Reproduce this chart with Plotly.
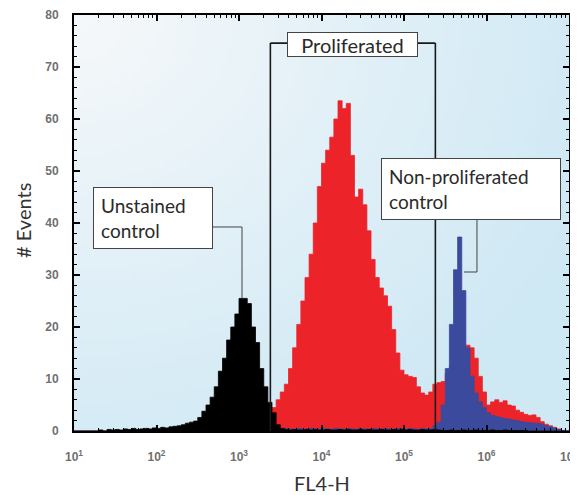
import zlib, struct, base64
import numpy as np
import plotly.graph_objects as go

# ---------------- data ----------------
bin_start_log10 = 1.0      # first bin edge = 10^1
bin_width_log10 = 0.05     # bin width in decades

unstained = [
    0, 0, 0, 0, 0, 0, 0.2, 0, 0.3, 0.2,
    0.3, 0.2, 0.4, 0.3, 0.5, 0.3, 0.4, 0.5, 0.4, 0.6,
    0.5, 0.7, 0.6, 0.8, 0.9, 1.0, 1.2, 1.5, 1.7, 1.9,
    2.6, 3.8, 5.0, 6.5, 8.5, 11.5, 14.0, 17.5, 20.0, 22.5,
    25.5, 25.5, 24.5, 20.0, 17.0, 12.0, 8.5, 5.5, 3.5, 1.2,
    0.5, 0.3, 0.2, 0.3, 0.2, 0.2, 0.3, 0.2, 0.3, 0.2,
    0.2, 0.3, 0.2, 0.2, 0.3, 0.2, 0.3, 0.2, 0.2, 0.3,
    0.2, 0.3, 0.2, 0.2, 0.3, 0.2, 0.2, 0.3, 0.2, 0.3,
    0.2, 0.3, 0.2, 0.2, 0.3, 0.2, 0.2, 0.3, 0.2, 0.1,
    0.1, 0.2, 0.1, 0.1, 0.2, 0.1, 0.1, 0.2, 0.1, 0.1,
    0.1, 0.2, 0.1, 0.1, 0.2, 0.1, 0.1, 0.1, 0.1, 0.1,
    0, 0, 0, 0, 0, 0, 0, 0, 0, 0,
]

proliferated = [
    0, 0, 0, 0, 0, 0, 0, 0, 0, 0,
    0, 0, 0, 0, 0, 0, 0, 0, 0, 0,
    0, 0, 0, 0, 0, 0, 0, 0, 0, 0,
    0, 0, 0, 0, 0, 0, 0, 0, 0, 0,
    0, 0, 0, 0, 0, 0, 0, 0, 4.5, 6.0,
    7.5, 9.0, 12.0, 16.0, 20.5, 25.0, 29.5, 34.0, 40.0, 47.0,
    51.5, 54.0, 56.5, 60.0, 63.5, 62.0, 63.0, 53.0, 45.0, 46.5,
    43.5, 38.5, 33.0, 29.5, 27.5, 26.0, 24.0, 19.5, 15.0, 11.7,
    10.8, 10.5, 10.3, 8.5, 7.3, 6.9, 7.5, 9.0, 9.3, 9.5,
    11.0, 12.5, 14.0, 15.0, 16.0, 16.5, 16.0, 14.0, 10.5, 7.5,
    5.0, 5.6, 6.0, 5.5, 5.8, 5.0, 4.8, 4.0, 3.6, 3.2,
    3.0, 3.1, 2.6, 1.8, 1.3, 1.0, 0.7, 0.4, 0.1, 0,
]

non_proliferated = [
    0, 0, 0, 0, 0, 0, 0, 0, 0, 0,
    0, 0, 0, 0, 0, 0, 0, 0, 0, 0,
    0, 0, 0, 0, 0, 0, 0, 0, 0, 0,
    0, 0, 0, 0, 0, 0, 0, 0, 0, 0,
    0, 0, 0, 0, 0, 0, 0, 0, 0.4, 0.5,
    0.3, 0.5, 0.4, 0.3, 0.5, 0.4, 0.3, 0.5, 0.4, 0.3,
    0.5, 0.4, 0.3, 0.5, 0.4, 0.3, 0.5, 0.4, 0.3, 0.5,
    0.4, 0.3, 0.5, 0.4, 0.3, 0.5, 0.4, 0.3, 0.5, 0.4,
    0.3, 0.5, 0.4, 0.3, 0.5, 0.4, 0.5, 1.0, 1.7, 5.0,
    12.0, 20.5, 31.0, 37.3, 27.0, 16.0, 10.5, 7.3, 5.6, 4.5,
    3.5, 3.0, 2.8, 2.6, 2.4, 2.3, 2.1, 2.0, 1.8, 1.7,
    1.6, 1.5, 1.5, 1.3, 1.0, 0.8, 0.6, 0.3, 0.1, 0,
]

gate_low = 2.4e3
gate_high = 2.4e5
gate_top = 74.6

x_tick_vals = [1e1, 1e2, 1e3, 1e4, 1e5, 1e6, 1e7]
x_tick_text = ["10<sup>1</sup>", "10<sup>2</sup>", "10<sup>3</sup>", "10<sup>4</sup>",
               "10<sup>5</sup>", "10<sup>6</sup>", "10<sup>7</sup>"]
y_tick_vals = [0, 10, 20, 30, 40, 50, 60, 70, 80]

# ---------------- helpers ----------------
n_bins = len(unstained)
edges = [10 ** (bin_start_log10 + bin_width_log10 * i) for i in range(n_bins + 1)]


def step_xy(counts):
    return edges, list(counts) + [counts[-1]]


def gradient_png(w, h):
    c0 = np.array([246, 248, 250], dtype=float)
    c1 = np.array([206, 232, 244], dtype=float)
    rows = []
    for j in range(h):
        v = j / (h - 1)
        row = bytearray([0])
        for i in range(w):
            u = i / (w - 1)
            t = min(1.0, ((u * 1.0) ** 2 + (v * 0.95) ** 2) ** 0.5 / 1.15)
            c = c0 + (c1 - c0) * t
            row += bytes(int(round(x)) for x in c)
        rows.append(bytes(row))
    raw = b"".join(rows)

    def chunk(tag, data):
        return (struct.pack(">I", len(data)) + tag + data +
                struct.pack(">I", zlib.crc32(tag + data) & 0xFFFFFFFF))

    png = (b"\x89PNG\r\n\x1a\n" +
           chunk(b"IHDR", struct.pack(">IIBBBBB", w, h, 8, 2, 0, 0, 0)) +
           chunk(b"IDAT", zlib.compress(raw, 9)) + chunk(b"IEND", b""))
    return "data:image/png;base64," + base64.b64encode(png).decode()


RED = "#ec2329"
BLUE = "#3b4a9c"
BLACK = "#000000"

fig = go.Figure()
for counts, color in [(proliferated, RED), (non_proliferated, BLUE), (unstained, BLACK)]:
    xs, ys = step_xy(counts)
    fig.add_trace(go.Scatter(x=xs, y=ys, mode="lines", line=dict(shape="hv", color=color, width=0.8),
                             fill="tozeroy", fillcolor=color, hoverinfo="skip", showlegend=False))

# gate bracket
line_dark = dict(color="#1a1a1a", width=1.6)
fig.add_shape(type="line", xref="x", yref="y", x0=gate_low, x1=gate_low, y0=0, y1=gate_top, line=line_dark)
fig.add_shape(type="line", xref="x", yref="y", x0=gate_high, x1=gate_high, y0=0, y1=gate_top, line=line_dark)
fig.add_shape(type="line", xref="x", yref="y", x0=gate_low, x1=gate_high, y0=gate_top, y1=gate_top, line=line_dark)

# leader lines
lead = dict(color="#444444", width=1)
fig.add_shape(type="line", xref="paper", yref="paper", x0=0.2808, x1=0.3394, y0=0.4904, y1=0.4904, line=lead)
fig.add_shape(type="line", xref="paper", yref="paper", x0=0.3394, x1=0.3394, y0=0.4904, y1=0.3197, line=lead)
fig.add_shape(type="line", xref="paper", yref="paper", x0=0.8141, x1=0.8141, y0=0.5072, y1=0.3822, line=lead)
fig.add_shape(type="line", xref="paper", yref="paper", x0=0.8141, x1=0.7879, y0=0.3822, y1=0.3822, line=lead)

label_font = dict(family="Lato", size=19, color="#2a2a2a")
box = dict(showarrow=False, bgcolor="white", bordercolor="#444", borderwidth=1,
           xref="paper", yref="paper", xanchor="center", yanchor="middle")
fig.add_annotation(text="Proliferated", x=0.5626, y=0.928, borderpad=2, width=125, height=19,
                   font=dict(family="Lato", size=20, color="#2a2a2a"), **box)
fig.add_annotation(text="Unstained<br>control", x=0.1596, y=0.512, borderpad=7, width=104, height=46,
                   align="left", font=label_font, **box)
fig.add_annotation(text="Non-proliferated<br>control", x=0.802, y=0.582, borderpad=7, width=164, height=46,
                   align="left", font=label_font, **box)

title_font = dict(family="Lato", size=20, color="#333333")
fig.add_annotation(text="FL4-H", xref="paper", yref="paper", x=0.501, y=-0.125,
                   xanchor="center", yanchor="middle", showarrow=False, font=title_font)
fig.add_annotation(text="# Events", xref="paper", yref="paper", x=-0.103, y=0.505,
                   xanchor="center", yanchor="middle", showarrow=False, textangle=-90, font=title_font)

fig.add_layout_image(source=gradient_png(80, 70), xref="paper", yref="paper", x=0, y=1,
                     sizex=1, sizey=1, xanchor="left", yanchor="top", sizing="stretch", layer="below")

tick_font = dict(family="Liberation Sans", size=12, color="#707070", weight="bold")
minor_x = [k * 10 ** d for d in range(1, 7) for k in range(2, 10)]
fig.update_xaxes(type="log", range=[1, 7], tickvals=x_tick_vals, ticktext=x_tick_text,
                 showgrid=False, zeroline=False, showline=True, linecolor="black", linewidth=2,
                 mirror="ticks", ticks="inside", ticklen=6, tickwidth=1.5, tickcolor="black",
                 minor=dict(tickvals=minor_x, ticks="inside", ticklen=3, tickwidth=1, tickcolor="black"),
                 tickfont=tick_font, ticklabelstandoff=14, automargin=False)
fig.update_yaxes(range=[0, 80], tickvals=y_tick_vals,
                 showgrid=False, zeroline=False, showline=True, linecolor="black", linewidth=2,
                 mirror="ticks", ticks="inside", ticklen=6, tickwidth=1.5, tickcolor="black",
                 minor=dict(dtick=2, ticks="inside", ticklen=3, tickwidth=1, tickcolor="black"),
                 tickfont=tick_font, ticklabelstandoff=11, automargin=False)

# page body has an 8px default margin, so the plot area is offset to land at the reference position
fig.update_layout(width=578, height=495, margin=dict(l=66, r=17, t=7, b=72),
                  paper_bgcolor="white", plot_bgcolor="white", showlegend=False)

fig.write_html("out.html")
